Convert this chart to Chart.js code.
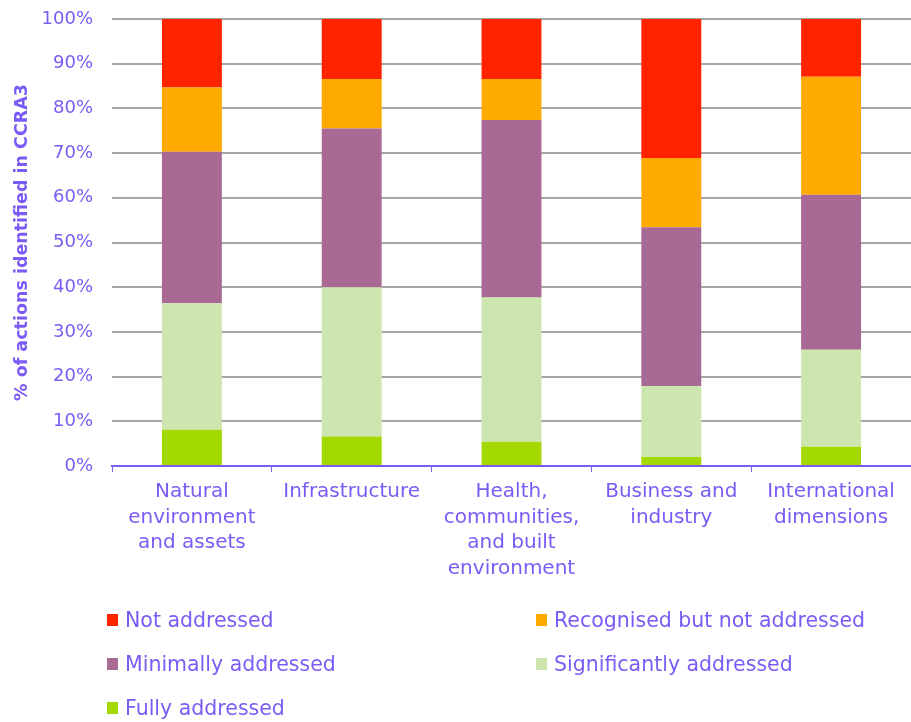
<!DOCTYPE html>
<html>
<head>
<meta charset="utf-8">
<script src="https://cdn.jsdelivr.net/npm/chart.js@4"></script>
<style>
  body { margin: 0; background: #fff; }
  #wrap { position: relative; width: 911px; height: 722px; }
  #legend { position: absolute; left: 0; top: 0; width: 911px; height: 722px; pointer-events: none; }
  .item { position: absolute; display: flex; align-items: center; font-family: "DejaVu Sans", sans-serif; font-size: 20.5px; color: #7B5BF5; }
  .box { width: 11px; height: 12px; margin-right: 7px; }
</style>
</head>
<body>
<div id="wrap">
  <canvas id="mainChart" width="911" height="722"></canvas>
  <div id="legend"></div>
</div>
<script>
const categories = [
    ['Natural', 'environment', 'and assets'],
    ['Infrastructure'],
    ['Health,', 'communities,', 'and built', 'environment'],
    ['Business and', 'industry'],
    ['International', 'dimensions']
];

// stacked bottom to top
const fullyAddressed = [8.1, 6.6, 5.4, 2.0, 4.3];
const significantlyAddressed = [28.3, 33.4, 32.3, 15.9, 21.7];
const minimallyAddressed = [33.9, 35.5, 39.7, 35.5, 34.7];
const recognisedNotAddressed = [14.4, 11.1, 9.2, 15.5, 26.4];
const notAddressed = [15.3, 13.4, 13.4, 31.1, 12.9];

const yTicks = [0, 10, 20, 30, 40, 50, 60, 70, 80, 90, 100];

const textColor = '#7B5BF5';
const ctx = document.getElementById('mainChart').getContext('2d');

const datasets = [
    { label: 'Fully addressed', data: fullyAddressed, backgroundColor: '#A3D800' },
    { label: 'Significantly addressed', data: significantlyAddressed, backgroundColor: '#CDE6B0' },
    { label: 'Minimally addressed', data: minimallyAddressed, backgroundColor: '#A86A95' },
    { label: 'Recognised but not addressed', data: recognisedNotAddressed, backgroundColor: '#FFAA00' },
    { label: 'Not addressed', data: notAddressed, backgroundColor: '#FF2300' }
];

const myChart = new Chart(ctx, {
    type: 'bar',
    data: {
        labels: categories,
        datasets: datasets.map(d => ({
            ...d,
            borderWidth: 0,
            categoryPercentage: 1,
            barPercentage: 0.375
        }))
    },
    options: {
        responsive: false,
        animation: false,
        layout: { padding: { top: 19, right: 0, bottom: 136, left: 0 } },
        plugins: {
            legend: { display: false },
            tooltip: { enabled: false }
        },
        scales: {
            x: {
                stacked: true,
                border: { color: textColor, width: 2 },
                grid: { drawOnChartArea: false, drawTicks: true, tickLength: 6, color: textColor, offset: true },
                ticks: {
                    color: textColor,
                    padding: 7,
                    maxRotation: 0,
                    autoSkip: false,
                    font: { family: 'DejaVu Sans', size: 20, lineHeight: 1.28 }
                },
                afterFit: (scale) => { scale.height = 120; }
            },
            y: {
                stacked: true,
                min: 0,
                max: 100,
                border: { display: false },
                grid: { color: '#A6A6A6', lineWidth: 2, drawTicks: false },
                afterBuildTicks: (scale) => { scale.ticks = yTicks.map(v => ({ value: v })); },
                ticks: {
                    color: textColor,
                    padding: 19,
                    font: { family: 'DejaVu Sans', size: 18 },
                    callback: (v) => v + '%'
                },
                title: {
                    display: true,
                    text: '% of actions identified in CCRA3',
                    color: textColor,
                    padding: { top: 12, bottom: 0 },
                    font: { family: 'DejaVu Sans', size: 17.5, weight: 'bold' }
                },
                afterFit: (scale) => {
                    scale.width = 112;
                    scale.paddingTop = 9;
                    scale.paddingBottom = 9;
                }
            }
        }
    }
});

// legend in two columns, reverse stacking order
const legendOrder = [4, 3, 2, 1, 0];
const legendCols = [107, 536];
const legendRows = [620, 664, 708];
const legendEl = document.getElementById('legend');
legendOrder.forEach((idx, i) => {
    const d = datasets[idx];
    const item = document.createElement('div');
    item.className = 'item';
    item.style.left = legendCols[i % 2] + 'px';
    item.style.top = (legendRows[Math.floor(i / 2)] - 12) + 'px';
    item.innerHTML = `<span class="box" style="background:${d.backgroundColor}"></span>${d.label}`;
    legendEl.appendChild(item);
});
</script>
</body>
</html>
